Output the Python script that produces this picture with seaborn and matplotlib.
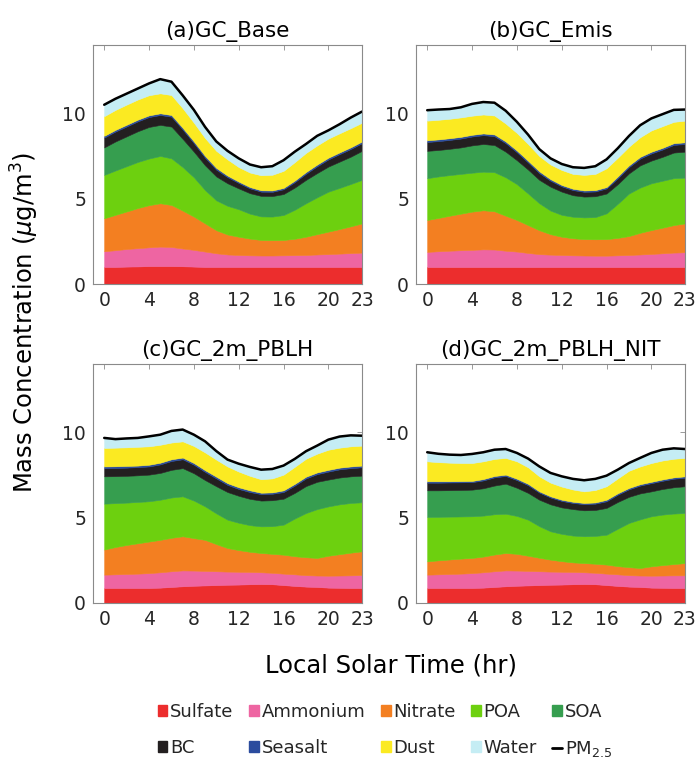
import numpy as np
import matplotlib
matplotlib.use("Agg")
import matplotlib.pyplot as plt
import seaborn as sns
from matplotlib.patches import Patch
from matplotlib.lines import Line2D

# ---------------- data ----------------
HOURS = list(range(24))
SPECIES = ["Sulfate", "Ammonium", "Nitrate", "POA", "SOA", "BC", "Seasalt", "Dust", "Water"]
COLORS = ["#EC2D2D", "#EE65A2", "#F37F21", "#6DD00F", "#369E4F",
          "#231F20", "#2B4C9E", "#FBEA22", "#C5EDF4"]
PANEL_TITLES = ["(a)GC_Base", "(b)GC_Emis", "(c)GC_2m_PBLH", "(d)GC_2m_PBLH_NIT"]
XTICKS = [0, 4, 8, 12, 16, 20, 23]
YTICKS = [0, 5, 10]

# Upper edge of each stacked layer (ug/m3).
# The top of the Water layer is the PM2.5 total.
base_sulfate = [1.0, 1.0, 1.02, 1.03, 1.05, 1.05, 1.05, 1.04, 1.02, 1.0, 1.0, 1.0, 1.0, 1.0, 1.0, 1.0, 1.0, 1.0, 1.0, 1.0, 1.0, 1.0, 1.0, 1.0]
base_ammonium = [1.92, 1.98, 2.05, 2.1, 2.15, 2.19, 2.17, 2.08, 2.0, 1.9, 1.8, 1.73, 1.7, 1.68, 1.67, 1.67, 1.68, 1.69, 1.7, 1.73, 1.75, 1.78, 1.81, 1.84]
base_nitrate = [3.85, 4.05, 4.25, 4.45, 4.62, 4.73, 4.63, 4.3, 3.95, 3.55, 3.15, 2.9, 2.77, 2.66, 2.58, 2.57, 2.58, 2.65, 2.77, 2.92, 3.07, 3.22, 3.38, 3.55]
base_poa = [6.39, 6.65, 6.9, 7.15, 7.35, 7.5, 7.36, 6.85, 6.25, 5.5, 4.9, 4.58, 4.38, 4.12, 3.96, 3.95, 4.04, 4.35, 4.73, 5.08, 5.41, 5.63, 5.86, 6.1]
base_soa = [8.0, 8.35, 8.65, 8.95, 9.2, 9.32, 9.22, 8.5, 7.75, 6.95, 6.3, 5.9, 5.6, 5.32, 5.16, 5.15, 5.27, 5.65, 6.1, 6.5, 6.88, 7.17, 7.46, 7.8]
base_bc = [8.58, 8.93, 9.23, 9.53, 9.78, 9.9, 9.8, 9.05, 8.25, 7.4, 6.7, 6.26, 5.92, 5.6, 5.41, 5.4, 5.55, 5.97, 6.46, 6.9, 7.3, 7.61, 7.91, 8.25]
base_seasalt = [8.68, 9.03, 9.33, 9.63, 9.88, 10.0, 9.9, 9.15, 8.35, 7.5, 6.8, 6.35, 6.0, 5.68, 5.49, 5.48, 5.63, 6.06, 6.56, 7.0, 7.4, 7.71, 8.01, 8.35]
base_dust = [9.83, 10.2, 10.51, 10.81, 11.06, 11.17, 11.07, 10.3, 9.45, 8.55, 7.8, 7.3, 6.85, 6.53, 6.37, 6.4, 6.63, 7.14, 7.68, 8.12, 8.52, 8.83, 9.13, 9.45]
base_pm25 = [10.5, 10.85, 11.15, 11.45, 11.75, 12.0, 11.85, 11.05, 10.2, 9.2, 8.35, 7.8, 7.36, 7.0, 6.84, 6.9, 7.25, 7.75, 8.2, 8.68, 9.0, 9.36, 9.75, 10.1]

emis_sulfate = [1.0] * 24
emis_ammonium = [1.88, 1.92, 1.95, 1.98, 2.0, 2.03, 2.02, 1.95, 1.9, 1.82, 1.75, 1.72, 1.7, 1.68, 1.67, 1.66, 1.66, 1.68, 1.7, 1.73, 1.76, 1.8, 1.84, 1.86]
emis_nitrate = [3.75, 3.87, 4.0, 4.12, 4.24, 4.32, 4.26, 4.0, 3.75, 3.45, 3.15, 2.92, 2.77, 2.68, 2.63, 2.62, 2.63, 2.7, 2.81, 3.0, 3.16, 3.3, 3.45, 3.55]
emis_poa = [6.2, 6.3, 6.38, 6.45, 6.52, 6.58, 6.55, 6.25, 5.85, 5.3, 4.73, 4.3, 4.05, 3.94, 3.9, 3.92, 4.14, 4.7, 5.3, 5.65, 5.9, 6.05, 6.2, 6.23]
emis_soa = [7.8, 7.85, 7.92, 8.0, 8.12, 8.2, 8.14, 7.75, 7.25, 6.7, 6.1, 5.7, 5.41, 5.2, 5.12, 5.14, 5.3, 5.85, 6.48, 6.95, 7.23, 7.45, 7.7, 7.75]
emis_bc = [8.32, 8.37, 8.44, 8.52, 8.64, 8.72, 8.66, 8.25, 7.72, 7.12, 6.5, 6.05, 5.72, 5.5, 5.4, 5.42, 5.6, 6.2, 6.85, 7.35, 7.65, 7.88, 8.15, 8.2]
emis_seasalt = [8.42, 8.47, 8.54, 8.62, 8.74, 8.82, 8.76, 8.35, 7.82, 7.22, 6.6, 6.14, 5.8, 5.58, 5.48, 5.5, 5.68, 6.3, 6.95, 7.45, 7.75, 7.98, 8.25, 8.3]
emis_dust = [9.57, 9.62, 9.68, 9.76, 9.86, 9.93, 9.87, 9.4, 8.85, 8.2, 7.5, 7.0, 6.68, 6.45, 6.39, 6.45, 6.78, 7.4, 8.05, 8.6, 9.0, 9.25, 9.5, 9.57]
emis_pm25 = [10.18, 10.22, 10.25, 10.35, 10.55, 10.66, 10.62, 10.15, 9.5, 8.75, 7.9, 7.36, 7.03, 6.84, 6.8, 6.9, 7.3, 7.95, 8.67, 9.3, 9.7, 9.95, 10.2, 10.22]

pblh_sulfate = [0.88, 0.88, 0.88, 0.88, 0.88, 0.9, 0.94, 0.98, 1.01, 1.03, 1.05, 1.07, 1.08, 1.1, 1.11, 1.1, 1.05, 1.0, 0.96, 0.94, 0.9, 0.89, 0.88, 0.88]
pblh_ammonium = [1.66, 1.68, 1.7, 1.72, 1.75, 1.8, 1.86, 1.91, 1.9, 1.88, 1.86, 1.84, 1.83, 1.82, 1.8, 1.77, 1.72, 1.68, 1.63, 1.61, 1.6, 1.61, 1.62, 1.64]
pblh_nitrate = [3.13, 3.28, 3.4, 3.5, 3.6, 3.7, 3.82, 3.91, 3.8, 3.7, 3.45, 3.22, 3.1, 3.0, 2.93, 2.88, 2.83, 2.74, 2.68, 2.64, 2.77, 2.86, 2.95, 3.03]
pblh_poa = [5.82, 5.85, 5.88, 5.92, 5.96, 6.05, 6.18, 6.25, 6.0, 5.66, 5.25, 4.88, 4.7, 4.56, 4.49, 4.5, 4.59, 4.95, 5.27, 5.5, 5.66, 5.78, 5.86, 5.9]
pblh_soa = [7.42, 7.43, 7.45, 7.48, 7.52, 7.62, 7.8, 7.9, 7.6, 7.2, 6.84, 6.5, 6.28, 6.1, 6.0, 6.02, 6.11, 6.45, 6.85, 7.1, 7.23, 7.35, 7.42, 7.46]
pblh_bc = [7.9, 7.91, 7.93, 7.96, 8.0, 8.12, 8.32, 8.42, 8.1, 7.68, 7.3, 6.92, 6.68, 6.5, 6.38, 6.4, 6.5, 6.88, 7.3, 7.55, 7.7, 7.83, 7.9, 7.95]
pblh_seasalt = [8.0, 8.01, 8.03, 8.05, 8.1, 8.22, 8.42, 8.52, 8.2, 7.78, 7.4, 7.02, 6.78, 6.6, 6.46, 6.48, 6.6, 6.98, 7.4, 7.65, 7.8, 7.93, 8.0, 8.05]
pblh_dust = [9.08, 9.1, 9.12, 9.15, 9.18, 9.27, 9.4, 9.47, 9.2, 8.82, 8.4, 8.0, 7.7, 7.45, 7.25, 7.3, 7.52, 7.98, 8.45, 8.75, 8.98, 9.1, 9.18, 9.22]
pblh_pm25 = [9.67, 9.6, 9.64, 9.67, 9.76, 9.86, 10.08, 10.16, 9.86, 9.47, 8.9, 8.4, 8.16, 7.97, 7.81, 7.85, 8.05, 8.44, 8.89, 9.22, 9.57, 9.75, 9.82, 9.8]

nit_sulfate = [0.88, 0.88, 0.88, 0.88, 0.88, 0.9, 0.94, 0.98, 1.01, 1.03, 1.05, 1.07, 1.08, 1.1, 1.11, 1.1, 1.05, 1.0, 0.96, 0.94, 0.9, 0.89, 0.88, 0.88]
nit_ammonium = [1.66, 1.68, 1.7, 1.72, 1.75, 1.8, 1.86, 1.91, 1.9, 1.88, 1.86, 1.84, 1.83, 1.82, 1.8, 1.77, 1.72, 1.68, 1.63, 1.61, 1.6, 1.61, 1.62, 1.62]
nit_nitrate = [2.44, 2.5, 2.55, 2.6, 2.64, 2.72, 2.84, 2.93, 2.88, 2.77, 2.65, 2.54, 2.45, 2.38, 2.34, 2.3, 2.25, 2.16, 2.1, 2.05, 2.15, 2.22, 2.28, 2.34]
nit_poa = [5.04, 5.05, 5.06, 5.07, 5.08, 5.12, 5.2, 5.23, 5.1, 4.88, 4.5, 4.2, 4.05, 3.95, 3.91, 3.93, 4.0, 4.35, 4.69, 4.9, 5.08, 5.18, 5.24, 5.27]
nit_soa = [6.6, 6.6, 6.61, 6.62, 6.64, 6.72, 6.88, 6.99, 6.75, 6.45, 6.05, 5.78, 5.6, 5.5, 5.43, 5.45, 5.57, 5.92, 6.22, 6.42, 6.54, 6.68, 6.78, 6.84]
nit_bc = [7.05, 7.05, 7.06, 7.07, 7.08, 7.18, 7.36, 7.44, 7.2, 6.9, 6.47, 6.18, 5.98, 5.86, 5.79, 5.82, 5.96, 6.35, 6.66, 6.88, 7.02, 7.16, 7.28, 7.34]
nit_seasalt = [7.13, 7.13, 7.13, 7.14, 7.15, 7.26, 7.44, 7.52, 7.28, 6.98, 6.54, 6.25, 6.05, 5.93, 5.86, 5.89, 6.05, 6.43, 6.74, 6.96, 7.1, 7.24, 7.36, 7.42]
nit_dust = [8.3, 8.25, 8.22, 8.2, 8.2, 8.3, 8.44, 8.5, 8.3, 7.95, 7.42, 7.05, 6.82, 6.65, 6.54, 6.62, 6.84, 7.3, 7.75, 8.0, 8.2, 8.35, 8.45, 8.5]
nit_pm25 = [8.83, 8.74, 8.69, 8.67, 8.73, 8.83, 8.98, 9.02, 8.79, 8.46, 8.0, 7.62, 7.42, 7.27, 7.19, 7.27, 7.46, 7.81, 8.2, 8.5, 8.79, 8.98, 9.06, 9.02]

PANELS = [
    [base_sulfate, base_ammonium, base_nitrate, base_poa, base_soa, base_bc, base_seasalt, base_dust, base_pm25],
    [emis_sulfate, emis_ammonium, emis_nitrate, emis_poa, emis_soa, emis_bc, emis_seasalt, emis_dust, emis_pm25],
    [pblh_sulfate, pblh_ammonium, pblh_nitrate, pblh_poa, pblh_soa, pblh_bc, pblh_seasalt, pblh_dust, pblh_pm25],
    [nit_sulfate, nit_ammonium, nit_nitrate, nit_poa, nit_soa, nit_bc, nit_seasalt, nit_dust, nit_pm25],
]

# ---------------- figure ----------------
sns.set_theme(style="white")
plt.rcParams["font.family"] = ["DejaVu Sans"]
plt.rcParams["mathtext.fontset"] = "dejavusans"

W, H = 698, 761
fig = plt.figure(figsize=(W / 100, H / 100), dpi=100)

def px_axes(left, top, right, bottom):
    return [left / W, 1 - bottom / H, (right - left) / W, (bottom - top) / H]

boxes = [px_axes(93, 45, 362, 284), px_axes(416, 45, 685, 284),
         px_axes(93, 364, 362, 603), px_axes(416, 364, 685, 603)]

TICK_COLOR = "#262626"
SPINE_COLOR = "#8a8a8a"

for box, title, edges in zip(boxes, PANEL_TITLES, PANELS):
    ax = fig.add_axes(box)
    lower = np.zeros(len(HOURS))
    for color, top in zip(COLORS, edges):
        top = np.asarray(top, dtype=float)
        ax.fill_between(HOURS, lower, top, facecolor=color, edgecolor=color,
                        linewidth=0.4, zorder=2)
        lower = top
    sns.lineplot(x=HOURS, y=edges[-1], color="black", linewidth=1.8, ax=ax, zorder=4)
    ax.set_xlim(-1, 23)
    ax.set_ylim(0, 14)
    ax.set_xticks(XTICKS)
    ax.set_yticks(YTICKS)
    ax.set_xlabel("")
    ax.set_ylabel("")
    ax.tick_params(direction="in", top=True, right=True, length=3.5, width=0.6,
                   color=SPINE_COLOR, labelsize=13.5, labelcolor=TICK_COLOR, pad=5)
    for s in ax.spines.values():
        s.set_color(SPINE_COLOR)
        s.set_linewidth(0.8)
        s.set_zorder(5)
    ax.set_title(title, fontsize=15.5, color="black", pad=6)

fig.text(25 / W, 1 - 322 / H, "Mass Concentration ($\\mu$g/m$^3$)", rotation=90,
         ha="center", va="center", fontsize=17.5, color="black")
fig.text(391 / W, 1 - 665 / H, "Local Solar Time (hr)", ha="center", va="center",
         fontsize=17.5, color="black")

patches = {name: Patch(facecolor=c, edgecolor=c) for name, c in zip(SPECIES, COLORS)}
pm_handle = Line2D([0], [0], color="black", linewidth=2)
order = ["Sulfate", "BC", "Ammonium", "Seasalt", "Nitrate", "Dust", "POA", "Water", "SOA"]
handles = [patches[n] for n in order] + [pm_handle]
labels = order + ["PM$_{2.5}$"]
fig.legend(handles, labels, ncol=5, loc="center", bbox_to_anchor=(385 / W, 1 - 731 / H),
           frameon=False, fontsize=13, handlelength=0.55, handleheight=0.55,
           handletextpad=0.15, columnspacing=0.85, labelspacing=1.0)

fig.savefig("out.png", dpi=100)
